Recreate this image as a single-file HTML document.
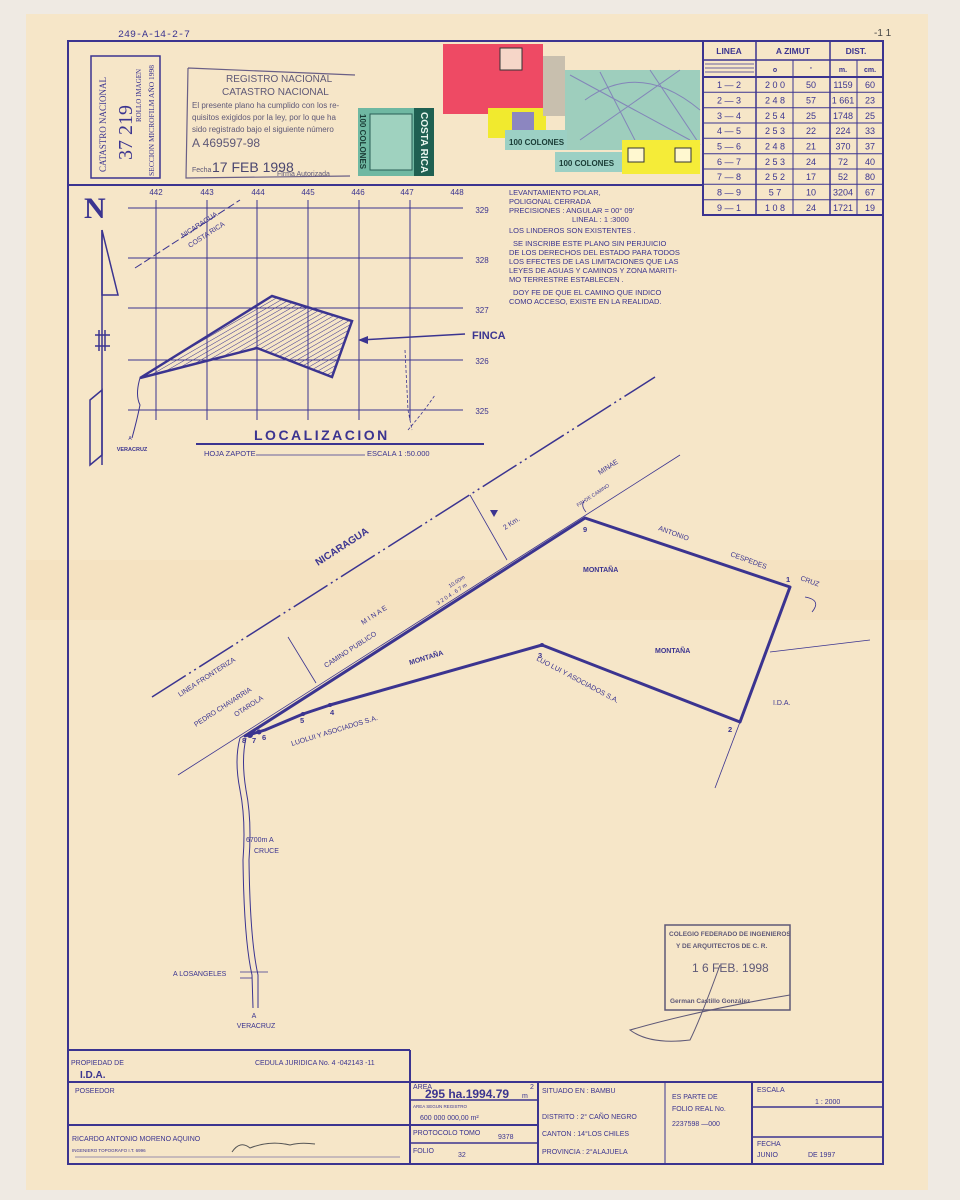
<!DOCTYPE html>
<html><head><meta charset="utf-8">
<style>
html,body{margin:0;padding:0;background:#efe9e2;}
svg{display:block;}
text{font-family:"Liberation Sans",sans-serif;fill:#3b3490;}
</style></head>
<body>
<svg width="960" height="1200" viewBox="0 0 960 1200" xmlns="http://www.w3.org/2000/svg">
<defs>
<pattern id="h" width="4" height="4" patternUnits="userSpaceOnUse" patternTransform="rotate(60)">
<line x1="0" y1="0" x2="0" y2="4" stroke="#3b3490" stroke-width="1"/></pattern>
</defs>
<rect x="0" y="0" width="960" height="1200" fill="#efeae3"/>
<rect x="26" y="14" width="902" height="1176" fill="#f6e6c8"/>
<rect x="26" y="560" width="902" height="60" fill="#f5dfbd" opacity="0.6"/>
<text x="118" y="37" font-size="10" style="font-family:'Liberation Mono',monospace">249-A-14-2-7</text>

<g fill="none" stroke="#3b3490">
<rect x="68" y="41" width="815" height="1123" stroke-width="2"/>
<line x1="68" y1="185" x2="703" y2="185" stroke-width="2"/>
<rect x="703" y="41" width="180" height="174" stroke-width="2"/>
<line x1="703" y1="60" x2="883" y2="60" stroke-width="1.5"/>
<line x1="703" y1="77" x2="883" y2="77" stroke-width="2"/>
<line x1="756" y1="41" x2="756" y2="215" stroke-width="1.5"/>
<line x1="830" y1="41" x2="830" y2="215" stroke-width="1.5"/>
<line x1="793" y1="60" x2="793" y2="215" stroke-width="1"/>
<line x1="857" y1="60" x2="857" y2="215" stroke-width="1"/>
<line x1="705" y1="64" x2="754" y2="64" stroke-width="0.7"/>
<line x1="705" y1="68" x2="754" y2="68" stroke-width="0.7"/>
<line x1="705" y1="72" x2="754" y2="72" stroke-width="0.7"/>
<g stroke-width="1">
<line x1="703" y1="92.3" x2="883" y2="92.3"/><line x1="703" y1="107.7" x2="883" y2="107.7"/>
<line x1="703" y1="123" x2="883" y2="123"/><line x1="703" y1="138.3" x2="883" y2="138.3"/>
<line x1="703" y1="153.7" x2="883" y2="153.7"/><line x1="703" y1="169" x2="883" y2="169"/>
<line x1="703" y1="184.3" x2="883" y2="184.3"/><line x1="703" y1="199.7" x2="883" y2="199.7"/>
</g>
<rect x="91" y="56" width="69" height="122" stroke-width="1.5"/>
</g>
<g font-size="8.5" font-weight="bold" text-anchor="middle">
<text x="729" y="54">LINEA</text><text x="793" y="54">A ZIMUT</text><text x="856" y="54">DIST.</text>
<text x="775" y="72" font-size="7">o</text><text x="811" y="72" font-size="7">'</text><text x="843" y="72" font-size="7">m.</text><text x="870" y="72" font-size="7">cm.</text>
</g>
<g font-size="9" text-anchor="middle">
<text x="729" y="88">1 — 2</text><text x="775" y="88">2 0 0</text><text x="811" y="88">50</text><text x="843" y="88">1159</text><text x="870" y="88">60</text>
<text x="729" y="103.5">2 — 3</text><text x="775" y="103.5">2 4 8</text><text x="811" y="103.5">57</text><text x="843" y="103.5">1 661</text><text x="870" y="103.5">23</text>
<text x="729" y="119">3 — 4</text><text x="775" y="119">2 5 4</text><text x="811" y="119">25</text><text x="843" y="119">1748</text><text x="870" y="119">25</text>
<text x="729" y="134">4 — 5</text><text x="775" y="134">2 5 3</text><text x="811" y="134">22</text><text x="843" y="134">224</text><text x="870" y="134">33</text>
<text x="729" y="149.5">5 — 6</text><text x="775" y="149.5">2 4 8</text><text x="811" y="149.5">21</text><text x="843" y="149.5">370</text><text x="870" y="149.5">37</text>
<text x="729" y="165">6 — 7</text><text x="775" y="165">2 5 3</text><text x="811" y="165">24</text><text x="843" y="165">72</text><text x="870" y="165">40</text>
<text x="729" y="180">7 — 8</text><text x="775" y="180">2 5 2</text><text x="811" y="180">17</text><text x="843" y="180">52</text><text x="870" y="180">80</text>
<text x="729" y="195.5">8 — 9</text><text x="775" y="195.5">5 7</text><text x="811" y="195.5">10</text><text x="843" y="195.5">3204</text><text x="870" y="195.5">67</text>
<text x="729" y="211">9 — 1</text><text x="775" y="211">1 0 8</text><text x="811" y="211">24</text><text x="843" y="211">1721</text><text x="870" y="211">19</text>
</g>

<!-- catastro stamp text -->
<g transform="translate(106,172) rotate(-90)"><text x="0" y="0" font-size="9" style="font-family:'Liberation Serif',serif">CATASTRO NACIONAL</text></g>
<g transform="translate(132,160) rotate(-90)"><text x="0" y="0" font-size="20" style="font-family:'Liberation Serif',serif">37 219</text></g>
<g transform="translate(141,122) rotate(-90)"><text x="0" y="0" font-size="7" style="font-family:'Liberation Serif',serif">ROLLO   IMAGEN</text></g>
<g transform="translate(154,176) rotate(-90)"><text x="0" y="0" font-size="7.5" style="font-family:'Liberation Serif',serif">SECCION MICROFILM AÑO 1998</text></g>

<!-- registro stamp -->
<g stroke="#6a5f86" fill="none" stroke-width="1.2">
<path d="M188 68 L355 75 M188 68 L186 178 L350 176"/>
</g>
<g>
<text x="226" y="82" font-size="10" style="fill:#5e5877">REGISTRO NACIONAL</text>
<text x="222" y="95" font-size="10" style="fill:#5e5877">CATASTRO NACIONAL</text>
<text x="192" y="108" font-size="8" style="fill:#5e5877">El presente plano ha cumplido con los re-</text>
<text x="192" y="120" font-size="8" style="fill:#5e5877">quisitos exigidos por la ley, por lo que ha</text>
<text x="192" y="132" font-size="8" style="fill:#5e5877">sido registrado bajo el siguiente número</text>
<text x="192" y="147" font-size="12" style="fill:#5e5877">A 469597-98</text>
<text x="192" y="172" font-size="7" style="fill:#5e5877">Fecha</text>
<text x="212" y="172" font-size="14" style="fill:#4a4670">17 FEB 1998</text>
<text x="277" y="176" font-size="7" style="fill:#5e5877">Firma Autorizada</text>
</g>
<!-- stamps -->
<rect x="358" y="108" width="76" height="68" fill="#6fb8a2"/>
<rect x="370" y="114" width="42" height="56" fill="#9fd2bf" stroke="#2a5e55"/>
<rect x="414" y="108" width="20" height="68" fill="#1f6052"/>
<g transform="translate(421,112) rotate(90)"><text font-size="10" style="fill:#e8f5ee;font-weight:bold">COSTA RICA</text></g>
<g transform="translate(360,114) rotate(90)"><text font-size="8" style="fill:#1a3c36;font-weight:bold">100 COLONES</text></g>
<rect x="443" y="44" width="100" height="70" fill="#ee4a64"/>
<rect x="500" y="48" width="22" height="22" fill="#f6d6c8" stroke="#333"/>
<rect x="488" y="108" width="58" height="30" fill="#f1ea2e"/>
<rect x="512" y="112" width="22" height="18" fill="#8c86c0"/>
<rect x="543" y="56" width="22" height="60" fill="#c8bfae"/>
<rect x="565" y="70" width="135" height="80" fill="#8ec9bb" opacity="0.85"/>
<rect x="505" y="130" width="62" height="20" fill="#9cd0c4"/>
<text x="509" y="145" font-size="8" font-weight="bold" style="fill:#1a3c36">100 COLONES</text>
<g stroke="#7c73b8" stroke-width="1" fill="none" opacity="0.8">
<path d="M570 75 L690 140 M580 140 L680 70 M600 72 L640 150 M650 70 L700 145 M585 100 Q640 60 700 110"/>
</g>
<rect x="555" y="152" width="68" height="20" fill="#9cd0c4"/>
<text x="559" y="166" font-size="8" font-weight="bold" style="fill:#1a3c36">100 COLONES</text>
<rect x="622" y="140" width="78" height="34" fill="#f5ec38"/>
<rect x="628" y="148" width="16" height="14" fill="#fff8d0" stroke="#333"/>
<rect x="675" y="148" width="16" height="14" fill="#fff8d0" stroke="#333"/>

<!-- localization grid -->
<g stroke="#3b3490" stroke-width="1" fill="none">
<line x1="128" y1="208" x2="463" y2="208"/><line x1="128" y1="258" x2="463" y2="258"/>
<line x1="128" y1="308" x2="463" y2="308"/><line x1="128" y1="360" x2="463" y2="360"/>
<line x1="128" y1="410" x2="463" y2="410"/>
<line x1="156" y1="200" x2="156" y2="420"/><line x1="207" y1="200" x2="207" y2="420"/>
<line x1="257" y1="200" x2="257" y2="420"/><line x1="308" y1="200" x2="308" y2="420"/>
<line x1="359" y1="200" x2="359" y2="420"/><line x1="410" y1="200" x2="410" y2="420"/>
<line x1="135" y1="268" x2="240" y2="200" stroke-dasharray="8 3"/>
<polygon points="140,378 272,296 352,321 332,377 257,348" fill="url(#h)" stroke-width="2.5"/>
<line x1="360" y1="340" x2="465" y2="334" stroke-width="1.5"/>
<path d="M140 378 Q135 395 140 405 Q137 420 132 438"/>
<path d="M405 350 L408 410 L412 430 M408 430 Q425 410 435 395" stroke-dasharray="3 2" stroke-width="0.8"/>
<line x1="196" y1="444" x2="484" y2="444" stroke-width="2"/>
<line x1="256" y1="455" x2="365" y2="455" stroke-width="0.8"/>
</g>
<polygon points="358,340 368,336 368,344" fill="#3b3490"/>
<g font-size="8" text-anchor="middle">
<text x="156" y="195">442</text><text x="207" y="195">443</text><text x="258" y="195">444</text>
<text x="308" y="195">445</text><text x="358" y="195">446</text><text x="407" y="195">447</text><text x="457" y="195">448</text>
<text x="482" y="213">329</text><text x="482" y="263">328</text><text x="482" y="313">327</text><text x="482" y="364">326</text><text x="482" y="414">325</text>
</g>
<text x="183" y="238" font-size="7" transform="rotate(-33 183 238)">NICARAGUA</text>
<text x="190" y="248" font-size="7" transform="rotate(-33 190 248)">COSTA RICA</text>
<text x="472" y="339" font-size="11" font-weight="bold">FINCA</text>
<text x="254" y="440" font-size="14" font-weight="bold" letter-spacing="2.5">LOCALIZACION</text>
<text x="204" y="456" font-size="7.5">HOJA  ZAPOTE</text>
<text x="367" y="456" font-size="7.5">ESCALA   1 :50.000</text>
<text x="130" y="440" font-size="5" text-anchor="middle">A</text>
<text x="132" y="451" font-size="5.5" font-weight="bold" text-anchor="middle">VERACRUZ</text>

<!-- north arrow -->
<text x="84" y="218" font-size="30" font-weight="bold" style="font-family:'Liberation Serif',serif">N</text>
<g stroke="#3b3490" fill="none" stroke-width="1.5">
<line x1="102" y1="230" x2="102" y2="465"/>
<polygon points="102,230 118,295 102,295"/>
<path d="M95 335 H110 M95 346 H110 M99 330 V351 M105 330 V351"/>
<polygon points="90,400 102,390 102,455 90,465"/>
</g>

<!-- notes -->
<g font-size="7.5">
<text x="509" y="195">LEVANTAMIENTO POLAR,</text>
<text x="509" y="204">POLIGONAL CERRADA</text>
<text x="509" y="213">PRECISIONES : ANGULAR = 00° 09'</text>
<text x="572" y="222">LINEAL : 1 :3000</text>
<text x="509" y="233">LOS LINDEROS SON EXISTENTES .</text>
<text x="513" y="246">SE INSCRIBE ESTE PLANO SIN PERJUICIO</text>
<text x="509" y="255">DE LOS DERECHOS DEL ESTADO PARA TODOS</text>
<text x="509" y="264">LOS EFECTES DE LAS LIMITACIONES QUE LAS</text>
<text x="509" y="273">LEYES DE AGUAS Y CAMINOS Y ZONA MARITI-</text>
<text x="509" y="282">MO TERRESTRE ESTABLECEN .</text>
<text x="513" y="295">DOY FE DE QUE EL CAMINO QUE INDICO</text>
<text x="509" y="304">COMO ACCESO, EXISTE EN LA REALIDAD.</text>
</g>
<text x="874" y="36" font-size="10" style="fill:#444">-1 1</text>

<!-- main map -->
<g stroke="#3b3490" fill="none">
<line x1="152" y1="697" x2="655" y2="377" stroke-width="1.5" stroke-dasharray="40 4 2 4 2 4"/>
<line x1="178" y1="775" x2="680" y2="455" stroke-width="0.8"/>
<line x1="470" y1="495" x2="507" y2="560" stroke-width="0.8"/>
<line x1="288" y1="637" x2="316" y2="683" stroke-width="0.8"/>
<line x1="240" y1="738" x2="583" y2="520" stroke-width="0.8"/>
<polygon points="585,518 790,587 740,722 542,645 330,705 303,714 265,730 255,733 245,736" stroke-width="3" stroke-linejoin="round"/>
<line x1="770" y1="652" x2="870" y2="640" stroke-width="0.8"/>
<line x1="740" y1="722" x2="715" y2="788" stroke-width="0.8"/>
<path d="M805 597 Q822 600 812 612" stroke-width="0.8"/>
<path d="M586 512 Q580 505 585 500" stroke-width="0.8"/>
<path d="M240 738 Q234 760 240 790 Q246 820 243 860 Q244 940 252 975 L253 1008" stroke-width="1"/>
<path d="M246 738 Q241 760 246 790 Q252 820 249 860 Q250 940 258 975 L258 1008" stroke-width="1"/>
<line x1="240" y1="972" x2="268" y2="972" stroke-width="0.8"/>
<line x1="240" y1="978" x2="252" y2="978" stroke-width="0.8"/>
</g>
<g fill="#3b3490">
<circle cx="330" cy="705" r="2"/><circle cx="303" cy="714" r="2"/><circle cx="542" cy="645" r="2"/>
<circle cx="250" cy="735" r="3"/><circle cx="259" cy="732" r="2.5"/>
</g>
<polygon points="494,517 490,510 498,510" fill="#3b3490"/>
<g font-size="7.5" font-weight="bold">
<text x="583" y="532">9</text><text x="786" y="582">1</text><text x="728" y="732">2</text>
<text x="538" y="658">3</text><text x="330" y="715">4</text><text x="300" y="723">5</text>
<text x="262" y="740">6</text><text x="252" y="743">7</text><text x="242" y="743">8</text>
<text x="583" y="572" font-size="7">MONTAÑA</text>
<text x="655" y="653" font-size="7">MONTAÑA</text>
<text x="410" y="665" font-size="7" transform="rotate(-17 410 665)">MONTAÑA</text>
</g>
<g font-size="7">
<text x="658" y="530" transform="rotate(20 658 530)">ANTONIO</text>
<text x="730" y="556" transform="rotate(20 730 556)">CESPEDES</text>
<text x="800" y="580" transform="rotate(20 800 580)">CRUZ</text>
<text x="773" y="705">I.D.A.</text>
<text x="536" y="660" transform="rotate(28 536 660)">LUO   LUI   Y   ASOCIADOS   S.A.</text>
<text x="292" y="746" transform="rotate(-17 292 746)">LUOLUI   Y   ASOCIADOS   S.A.</text>
<text x="196" y="727" transform="rotate(-33 196 727)">PEDRO   CHAVARRIA</text>
<text x="236" y="717" transform="rotate(-33 236 717)">OTAROLA</text>
<text x="180" y="697" transform="rotate(-33 180 697)">LINEA   FRONTERIZA</text>
<text x="326" y="668" transform="rotate(-33 326 668)">CAMINO   PUBLICO</text>
<text x="363" y="625" transform="rotate(-33 363 625)">M I N A E</text>
<text x="600" y="475" transform="rotate(-33 600 475)">MINAE</text>
<text x="578" y="507" font-size="5" transform="rotate(-33 578 507)">FIN DE CAMINO</text>
<text x="505" y="530" transform="rotate(-33 505 530)">2 Km.</text>
<text x="450" y="588" font-size="5.5" transform="rotate(-33 450 588)">10.00m</text>
<text x="438" y="605" font-size="5.5" transform="rotate(-33 438 605)">3 2 0 4 . 6 7  m</text>
<text x="246" y="842">6700m  A</text>
<text x="254" y="853">CRUCE</text>
<text x="173" y="976">A LOSANGELES</text>
<text x="254" y="1018" text-anchor="middle">A</text>
<text x="256" y="1028" text-anchor="middle">VERACRUZ</text>
</g>
<text x="318" y="566" font-size="10" font-weight="bold" transform="rotate(-33 318 566)">NICARAGUA</text>

<!-- colegio stamp -->
<rect x="665" y="925" width="125" height="85" fill="none" stroke="#5e5877" stroke-width="1.5"/>
<g font-size="6.5" font-weight="bold">
<text x="669" y="936" style="fill:#5e5877">COLEGIO FEDERADO DE INGENIEROS</text>
<text x="676" y="948" style="fill:#5e5877">Y DE ARQUITECTOS DE C. R.</text>
<text x="692" y="972" font-size="12" font-weight="normal" style="fill:#5e5877">1 6  FEB. 1998</text>
<text x="670" y="1003" style="fill:#5e5877">German Castillo González</text>
</g>
<path d="M720 965 Q700 1020 690 1040 Q650 1045 630 1030 Q700 1010 790 995" fill="none" stroke="#5e5877" stroke-width="1"/>

<!-- title block -->
<g stroke="#3b3490" fill="none" stroke-width="2">
<line x1="68" y1="1050" x2="410" y2="1050"/>
<line x1="410" y1="1050" x2="410" y2="1082"/>
<line x1="68" y1="1082" x2="883" y2="1082"/>
<line x1="68" y1="1125" x2="538" y2="1125"/>
<line x1="410" y1="1082" x2="410" y2="1164"/>
<line x1="538" y1="1082" x2="538" y2="1164"/>
<line x1="665" y1="1082" x2="665" y2="1164" stroke-width="1"/>
<line x1="752" y1="1082" x2="752" y2="1164"/>
<line x1="752" y1="1107" x2="883" y2="1107" stroke-width="1.5"/>
<line x1="752" y1="1137" x2="883" y2="1137" stroke-width="1.5"/>
<line x1="410" y1="1100" x2="538" y2="1100" stroke-width="1.5"/>
<line x1="410" y1="1143" x2="538" y2="1143" stroke-width="1.5"/>
<line x1="75" y1="1157" x2="400" y2="1157" stroke-width="0.6"/>
</g>
<g font-size="7">
<text x="71" y="1065">PROPIEDAD DE</text>
<text x="255" y="1065">CEDULA JURIDICA No. 4 -042143 -11</text>
<text x="80" y="1078" font-size="10" font-weight="bold">I.D.A.</text>
<text x="75" y="1093">POSEEDOR</text>
<text x="72" y="1141">RICARDO ANTONIO MORENO AQUINO</text>
<text x="72" y="1152" font-size="4.5">INGENIERO TOPOGRAFO  I.T. 6996</text>
<text x="413" y="1089">AREA</text>
<text x="425" y="1098" font-size="12" font-weight="bold">295 ha.1994.79</text>
<text x="522" y="1098" font-size="7">m</text><text x="530" y="1089" font-size="7">2</text>
<text x="413" y="1108" font-size="4.5">AREA SEGUN REGISTRO</text>
<text x="420" y="1120">600 000 000,00  m²</text>
<text x="413" y="1135">PROTOCOLO TOMO</text><text x="498" y="1139">9378</text>
<text x="413" y="1153">FOLIO</text><text x="458" y="1157">32</text>
<text x="542" y="1093">SITUADO EN : BAMBU</text>
<text x="542" y="1119">DISTRITO : 2° CAÑO NEGRO</text>
<text x="542" y="1136">CANTON : 14°LOS CHILES</text>
<text x="542" y="1154">PROVINCIA : 2°ALAJUELA</text>
<text x="672" y="1099">ES PARTE DE</text>
<text x="672" y="1111">FOLIO REAL No.</text>
<text x="672" y="1126">2237598 —000</text>
<text x="757" y="1092">ESCALA</text>
<text x="815" y="1104">1 : 2000</text>
<text x="757" y="1146">FECHA</text>
<text x="757" y="1157">JUNIO</text><text x="808" y="1157">DE 1997</text>
</g>
<path d="M232 1152 Q240 1140 250 1148 Q270 1140 290 1145 Q300 1142 315 1144" fill="none" stroke="#555" stroke-width="1"/>
</svg>
</body></html>
